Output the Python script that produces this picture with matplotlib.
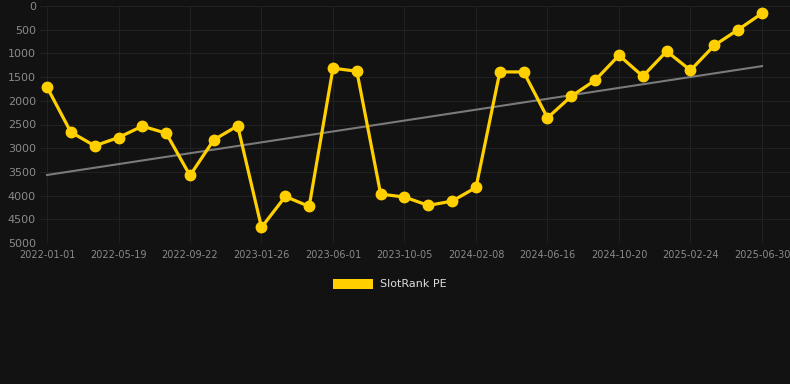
import numpy as np
import matplotlib
matplotlib.use("Agg")
import matplotlib.pyplot as plt
from matplotlib.patches import Patch

tick_labels = ["2022-01-01", "2022-05-19", "2022-09-22", "2023-01-26", "2023-06-01",
               "2023-10-05", "2024-02-08", "2024-06-16", "2024-10-20", "2025-02-24",
               "2025-06-30"]
series_name = "SlotRank PE"
values = [1710, 2660, 2950, 2775, 2535, 2683, 3575, 2823, 2528, 4671,
          4018, 4229, 1313, 1376, 3968, 4031, 4207, 4116, 3828, 1391,
          1391, 2360, 1903, 1566, 1040, 1482, 955, 1356, 830, 499, 155]
y_ticks = [0, 500, 1000, 1500, 2000, 2500, 3000, 3500, 4000, 4500, 5000]

bg = "#121212"
fig = plt.figure(figsize=(7.9, 3.84), dpi=100, facecolor=bg)
ax = fig.add_axes([40/790, 1-243/384, 750/790, 237/384], facecolor=bg)

x = np.arange(len(values))
coef = np.polyfit(x, values, 1)
trend = np.polyval(coef, x)

ax.plot(x, trend, color="#7a7a7a", lw=1.5, zorder=2)
ax.plot(x, values, color="#FFD000", lw=2.3, marker="o", markersize=7.5,
        markerfacecolor="#FFD000", markeredgecolor="#FFD000", zorder=3)

ax.set_xlim(-7/23.83, 30 + 28/23.83)
ax.set_ylim(5000, 0)
ax.set_yticks(y_ticks)
ax.set_yticklabels([str(v) for v in y_ticks])
tick_pos = x[::3]
ax.set_xticks(tick_pos)
ax.set_xticklabels(tick_labels)

ax.grid(True, color="#212121", lw=0.8)
ax.set_axisbelow(True)
for s in ax.spines.values():
    s.set_visible(False)
ax.tick_params(axis="both", length=0, colors="#8a8a8a")
ax.tick_params(axis="x", labelsize=7, pad=5)
ax.tick_params(axis="y", labelsize=8, pad=3)

handle = Patch(facecolor="#FFD000", edgecolor="none")
fig.legend([handle], [series_name], loc="center", bbox_to_anchor=(390/790, 1-284/384),
           frameon=False, fontsize=8, labelcolor="#dddddd", handlelength=3.6,
           handleheight=1.0, handletextpad=0.6)

fig.savefig("out.png", dpi=100, facecolor=bg)
